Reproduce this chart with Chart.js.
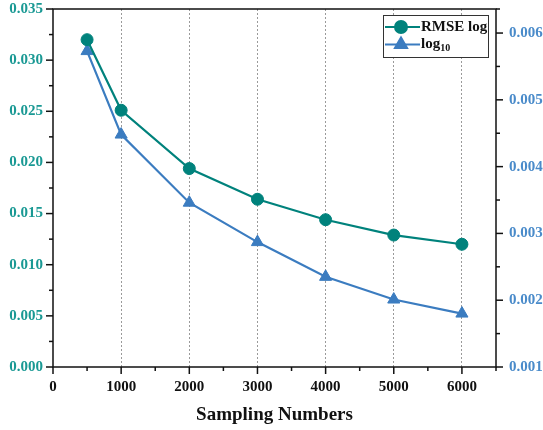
<!DOCTYPE html>
<html>
<head>
<meta charset="utf-8">
<script src="https://cdn.jsdelivr.net/npm/chart.js@4/dist/chart.umd.min.js"></script>
<style>
  html, body { margin: 0; padding: 0; background: #ffffff; }
  #wrap { width: 543px; height: 430px; }
</style>
</head>
<body>
<div id="wrap"><canvas id="c" width="543" height="430"></canvas></div>
<script>
// ---- data ----
const samplingNumbers = [500, 1000, 2000, 3000, 4000, 5000, 6000];
const rmseLog = [0.0320, 0.0251, 0.0194, 0.0164, 0.0144, 0.0129, 0.0120];
const log10Values = [0.00573, 0.00448, 0.00346, 0.00287, 0.00235, 0.00201, 0.00180];
const seriesLabels = ['RMSE log', 'log\u2081\u2080'];
const xTitle = 'Sampling Numbers';

const TEAL = '#00827c';
const BLUE = '#3b7cc0';
const TEAL_TXT = '#1a9994';
const BLUE_TXT = '#4a8bca';
const FONT = "'Liberation Serif', 'Times New Roman', serif";

function isMajorLeft(v) { return Math.round(v * 10000) % 50 === 0; }
function isMajorRight(v) { return Math.round(v * 10000) % 10 === 0; }
function isMajorX(v) { return Math.round(v) % 1000 === 0; }

const frameAndTicks = {
  id: 'frameAndTicks',
  afterDraw(chart) {
    const ctx = chart.ctx;
    const a = chart.chartArea;
    ctx.save();
    ctx.strokeStyle = '#111';
    ctx.lineWidth = 1.5;
    ctx.lineCap = 'butt';
    const drawTicks = (scale, isMajor, dir) => {
      scale.ticks.forEach(t => {
        const len = isMajor(t.value) ? 7 : 4;
        const p = scale.getPixelForValue(t.value);
        ctx.beginPath();
        if (dir === 'left') { ctx.moveTo(a.left, p); ctx.lineTo(a.left - len, p); }
        else if (dir === 'right') { ctx.moveTo(a.right, p); ctx.lineTo(a.right + len, p); }
        else { ctx.moveTo(p, a.bottom); ctx.lineTo(p, a.bottom + len); }
        ctx.stroke();
      });
    };
    drawTicks(chart.scales.y, isMajorLeft, 'left');
    drawTicks(chart.scales.y1, isMajorRight, 'right');
    drawTicks(chart.scales.x, isMajorX, 'bottom');
    ctx.strokeRect(a.left, a.top, a.right - a.left, a.bottom - a.top);
    ctx.restore();
  }
};

const subMap = {'\u2080':'0','\u2081':'1','\u2082':'2','\u2083':'3','\u2084':'4','\u2085':'5','\u2086':'6','\u2087':'7','\u2088':'8','\u2089':'9'};

const customLegend = {
  id: 'customLegend',
  afterDraw(chart) {
    const ctx = chart.ctx;
    const a = chart.chartArea;
    const w = 105, h = 42;
    const bx = a.right - 8 - w, by = a.top + 6;
    ctx.save();
    ctx.fillStyle = '#fff';
    ctx.fillRect(bx, by, w, h);
    ctx.strokeStyle = '#333';
    ctx.lineWidth = 1;
    ctx.strokeRect(bx + 0.5, by + 0.5, w, h);
    chart.data.datasets.forEach((ds, i) => {
      const y = by + 12 + i * 17.5;
      ctx.strokeStyle = ds.borderColor;
      ctx.lineWidth = 2;
      ctx.beginPath();
      ctx.moveTo(bx + 2, y);
      ctx.lineTo(bx + 37, y);
      ctx.stroke();
      ctx.fillStyle = ds.backgroundColor;
      ctx.strokeStyle = ds.borderColor;
      Chart.helpers.drawPoint(ctx, {pointStyle: ds.pointStyle, radius: ds.pointRadius, rotation: 0, borderWidth: 1}, bx + 18, y);
      let base = '', sub = '';
      for (const ch of ds.label) { if (subMap[ch]) sub += subMap[ch]; else base += ch; }
      ctx.fillStyle = '#111';
      ctx.textBaseline = 'middle';
      ctx.textAlign = 'left';
      ctx.font = 'bold 15px ' + FONT;
      ctx.fillText(base, bx + 38, y);
      if (sub) {
        const bw = ctx.measureText(base).width;
        ctx.font = 'bold 10px ' + FONT;
        ctx.fillText(sub, bx + 38 + bw, y + 4);
      }
    });
    ctx.restore();
  }
};

const fitY = w => s => { s.width = w; s.paddingTop = 0; s.paddingBottom = 0; };

new Chart(document.getElementById('c'), {
  type: 'line',
  data: {
    datasets: [
      {
        label: seriesLabels[0],
        data: samplingNumbers.map((x, i) => ({x: x, y: rmseLog[i]})),
        yAxisID: 'y',
        borderColor: TEAL,
        backgroundColor: TEAL,
        borderWidth: 2.2,
        pointStyle: 'circle',
        pointRadius: 6,
        pointBorderWidth: 1,
        tension: 0
      },
      {
        label: seriesLabels[1],
        data: samplingNumbers.map((x, i) => ({x: x, y: log10Values[i]})),
        yAxisID: 'y1',
        borderColor: BLUE,
        backgroundColor: BLUE,
        borderWidth: 2.2,
        pointStyle: 'triangle',
        pointRadius: 7,
        pointBorderWidth: 1,
        tension: 0
      }
    ]
  },
  options: {
    responsive: false,
    animation: false,
    layout: { padding: { top: 9, left: 0, right: 0, bottom: 0 } },
    plugins: { legend: { display: false }, tooltip: { enabled: false } },
    scales: {
      x: {
        type: 'linear',
        min: 0, max: 6500,
        afterFit: s => { s.height = 63; s.paddingLeft = 0; s.paddingRight = 0; },
        ticks: {
          stepSize: 500,
          padding: 4,
          color: '#111',
          font: { family: FONT, size: 15, weight: 'bold' },
          maxRotation: 0,
          autoSkip: false,
          callback: v => isMajorX(v) && v <= 6000 ? String(v) : ''
        },
        grid: {
          drawTicks: true,
          tickLength: 7,
          tickColor: 'transparent',
          lineWidth: 1,
          color: c => (c.tick && isMajorX(c.tick.value) && c.tick.value > 0 && c.tick.value < 6500) ? '#9a9a9a' : 'transparent'
        },
        border: { display: false, dash: [2, 2] },
        title: {
          display: true,
          text: xTitle,
          color: '#111',
          font: { family: FONT, size: 19, weight: 'bold' },
          padding: { top: 0, bottom: 4 }
        }
      },
      y: {
        position: 'left',
        min: 0, max: 0.035,
        afterFit: fitY(53),
        ticks: {
          stepSize: 0.0025,
          padding: 3,
          color: TEAL_TXT,
          font: { family: FONT, size: 15, weight: 'bold' },
          autoSkip: false,
          callback: v => isMajorLeft(v) ? v.toFixed(3) : ''
        },
        grid: { drawOnChartArea: false, tickLength: 7, tickColor: 'transparent' },
        border: { display: false }
      },
      y1: {
        position: 'right',
        min: 0.001, max: 0.00636,
        afterFit: fitY(47),
        ticks: {
          stepSize: 0.0005,
          padding: 6,
          color: BLUE_TXT,
          font: { family: FONT, size: 15, weight: 'bold' },
          autoSkip: false,
          callback: v => isMajorRight(v) ? v.toFixed(3) : ''
        },
        grid: { drawOnChartArea: false, tickLength: 7, tickColor: 'transparent' },
        border: { display: false }
      }
    }
  },
  plugins: [frameAndTicks, customLegend]
});
</script>
</body>
</html>
